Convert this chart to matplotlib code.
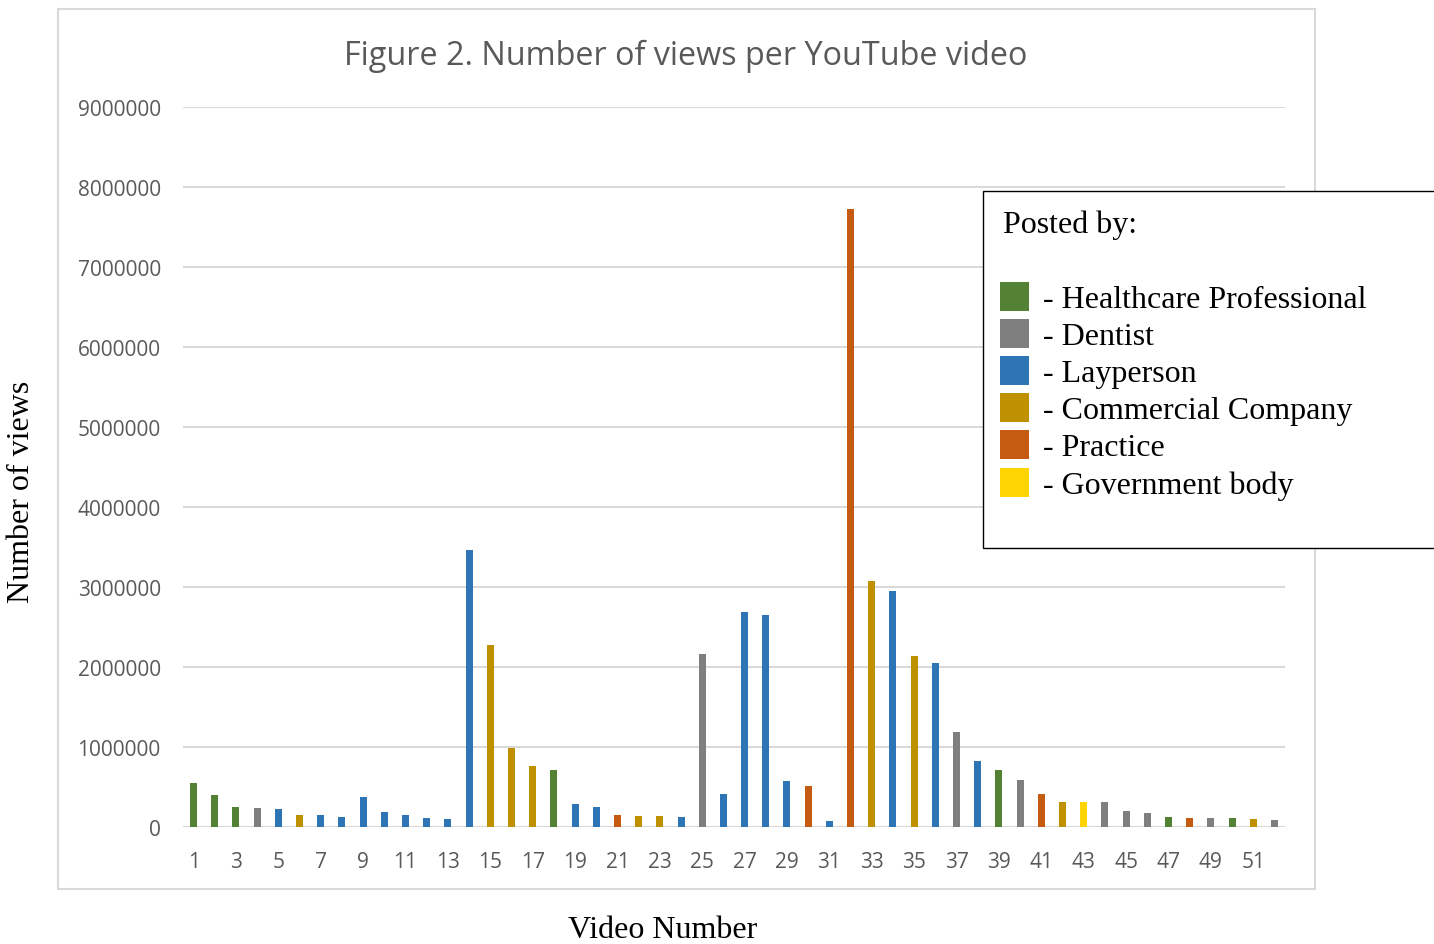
import numpy as np
import matplotlib
matplotlib.use("Agg")
import matplotlib.pyplot as plt
from matplotlib.patches import Rectangle

# who posted each video (1..52)
poster = ["HP", "HP", "HP", "D", "L", "C", "L", "L", "L", "L",
          "L", "L", "L", "L", "C", "C", "C", "HP", "L", "L",
          "P", "C", "C", "L", "D", "L", "L", "L", "L", "P",
          "L", "P", "C", "L", "C", "L", "D", "L", "HP", "D",
          "P", "C", "G", "D", "D", "D", "HP", "P", "D", "HP",
          "C", "D"]
views = [545000, 405000, 255000, 240000, 225000, 150000, 150000, 125000, 380000, 190000,
         150000, 110000, 100000, 3460000, 2275000, 990000, 760000, 710000, 290000, 250000,
         150000, 140000, 140000, 125000, 2160000, 410000, 2690000, 2650000, 575000, 510000,
         75000, 7725000, 3075000, 2950000, 2140000, 2050000, 1190000, 825000, 710000, 590000,
         410000, 310000, 310000, 310000, 200000, 180000, 125000, 115000, 115000, 115000,
         100000, 90000]

groups = ["HP", "D", "L", "C", "P", "G"]
group_names = ["Healthcare Professional", "Dentist", "Layperson",
               "Commercial Company", "Practice", "Government body"]
group_colors = ["#548235", "#7F7F7F", "#2E75B6", "#BF9000", "#C55A11", "#FFD400"]
cmap = dict(zip(groups, group_colors))

video = np.arange(1, len(views) + 1)

fig = plt.figure(figsize=(14.34, 9.45), dpi=100)
W, H = 1434, 945

# chart frame
fig.patches.append(Rectangle((58 / W, 1 - 890 / H), (1315 - 58) / W, (890 - 10) / H,
                             transform=fig.transFigure, fill=False,
                             edgecolor="#D9D9D9", linewidth=1.5, zorder=0))

ax = fig.add_axes([183 / W, 1 - 828 / H, (1285 - 183) / W, (828 - 108) / H])
ax.bar(video, views, width=0.33, color=[cmap[p] for p in poster], zorder=3)

ax.set_xlim(0.5, len(views) + 0.5)
ax.set_ylim(0, 9000000)
ax.set_yticks(np.arange(0, 9000001, 1000000))
ax.set_yticklabels([str(v) for v in range(0, 9000001, 1000000)])
ax.set_xticks(video[::2])
ax.set_xticklabels([str(v) for v in video[::2]])
ax.grid(axis="y", color="#D9D9D9", linewidth=1.5, zorder=0)
for s in ax.spines.values():
    s.set_visible(False)
ax.axhline(0, color="#D9D9D9", linewidth=2.2, zorder=2)
ax.tick_params(length=0, labelsize=15, labelcolor="#595959")
ax.tick_params(axis="y", pad=16)
ax.tick_params(axis="x", pad=17)
for lab in ax.get_xticklabels() + ax.get_yticklabels():
    lab.set_family("Open Sans")

fig.text(686 / W, 1 - 56 / H, "Figure 2. Number of views per YouTube video",
         ha="center", va="center", fontsize=23.3, color="#595959", family="Open Sans")
fig.text(22 / W, 1 - 492 / H, "Number of views", rotation=90, ha="center", va="center",
         fontsize=23, family="Liberation Serif", color="black")
fig.text(663 / W, 1 - 931 / H, "Video Number", ha="center", va="center",
         fontsize=23, family="Liberation Serif", color="black")

# legend box
fig.patches.append(Rectangle((983 / W, 1 - 549 / H), (1445 - 983) / W, (549 - 192) / H,
                             transform=fig.transFigure, facecolor="white",
                             edgecolor="black", linewidth=1.0, zorder=5))
fig.text(1003 / W, 1 - 225 / H, "Posted by:", ha="left", va="center", fontsize=23,
         family="Liberation Serif", zorder=6)
for i, (name, col) in enumerate(zip(group_names, group_colors)):
    yc = 297 + i * 37.2
    fig.patches.append(Rectangle((1000 / W, 1 - (yc + 14.5) / H), 29 / W, 29 / H,
                                 transform=fig.transFigure, facecolor=col,
                                 edgecolor="none", zorder=6))
    fig.text(1043 / W, 1 - (yc + 3) / H, "- " + name, ha="left", va="center", fontsize=23,
             family="Liberation Serif", zorder=6)

fig.savefig("out.png", dpi=100)
